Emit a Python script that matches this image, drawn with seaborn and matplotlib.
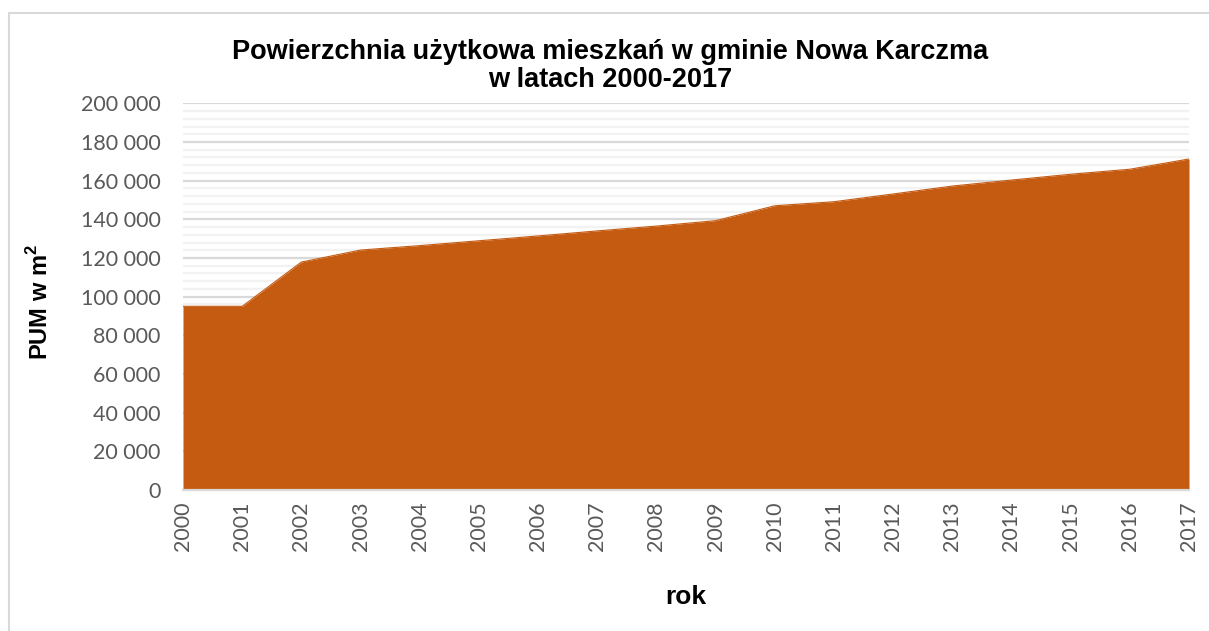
import matplotlib
matplotlib.use("Agg")
import matplotlib.pyplot as plt
import seaborn as sns
import pandas as pd
from matplotlib.ticker import MultipleLocator, FuncFormatter
from matplotlib.lines import Line2D

years = list(range(2000, 2018))
pum = [95000, 95000, 117900, 124100, 126400, 128900, 131400, 134000, 136500,
       139300, 147000, 149100, 153100, 157200, 160300, 163300, 165900, 171200]

title = "Powierzchnia użytkowa mieszkań w gminie Nowa Karczma\nw latach 2000-2017"
ylabel = "PUM w m$^\\mathregular{2}$"
xlabel = "rok"

df = pd.DataFrame({"rok": years, "pum": pum})

sns.set_theme(style="white")
plt.rcParams["font.family"] = ["Liberation Sans", "DejaVu Sans"]

fig = plt.figure(figsize=(12.09, 6.31), dpi=100)
ax = fig.add_axes([183 / 1209, 1 - 490 / 631, (1189 - 183) / 1209, (490 - 103.3) / 631])

fill_color = "#C55A11"
ax.fill_between(df["rok"], df["pum"], 0, color=fill_color, linewidth=0, zorder=3)
sns.lineplot(data=df, x="rok", y="pum", ax=ax, color=fill_color, linewidth=0.8, zorder=4)

ax.set_xlim(2000, 2017)
ax.set_ylim(0, 200000)
ax.yaxis.set_major_locator(MultipleLocator(20000))
ax.yaxis.set_minor_locator(MultipleLocator(4000))
ax.set_xticks(years)
ax.set_xticklabels([str(y) for y in years], rotation=90)
ax.yaxis.set_major_formatter(FuncFormatter(lambda v, p: f"{int(v):,}".replace(",", " ")))

ax.grid(which="major", axis="y", color="#D9D9D9", linewidth=1.6, zorder=0)
ax.grid(which="minor", axis="y", color="#F2F2F2", linewidth=1.6, zorder=0)
ax.set_axisbelow(True)
for s in ["top", "right", "left"]:
    ax.spines[s].set_visible(False)
ax.spines["bottom"].set_color("#D9D9D9")
ax.spines["bottom"].set_linewidth(1.6)
ax.spines["bottom"].set_zorder(5)

tick_font = ["Lato", "DejaVu Sans"]
ax.tick_params(axis="both", which="both", length=0, labelcolor="#595959", labelsize=15.5)
ax.tick_params(axis="y", pad=16)
ax.tick_params(axis="x", pad=8)
for lbl in ax.get_xticklabels() + ax.get_yticklabels():
    lbl.set_fontfamily(tick_font)

ax.set_xlabel(xlabel, fontsize=19, fontweight="bold", color="black")
ax.xaxis.set_label_coords(0.5, -(597 - 490) / (490 - 103.3), transform=ax.transAxes)
ax.xaxis.label.set_va("center")
ax.set_ylabel(ylabel, fontsize=17, fontweight="bold", color="black")
ax.yaxis.set_label_coords(-(183 - 40) / (1189 - 183), (490 - 302) / (490 - 103.3))
ax.yaxis.label.set_va("center")

fig.text(610 / 1209, 1 - 52 / 631, title.split("\n")[0], ha="center", va="center",
         fontsize=19.5, fontweight="bold", color="black")
fig.text(610 / 1209, 1 - 80 / 631, title.split("\n")[1], ha="center", va="center",
         fontsize=19.5, fontweight="bold", color="black")

# light frame around the chart area
fig.add_artist(Line2D([9 / 1209, 9 / 1209], [0, 1 - 13 / 631], transform=fig.transFigure,
                      color="#D9D9D9", linewidth=1.5))
fig.add_artist(Line2D([9 / 1209, 1], [1 - 13 / 631, 1 - 13 / 631], transform=fig.transFigure,
                      color="#D9D9D9", linewidth=1.5))

fig.savefig("out.png", dpi=100, facecolor="white")
